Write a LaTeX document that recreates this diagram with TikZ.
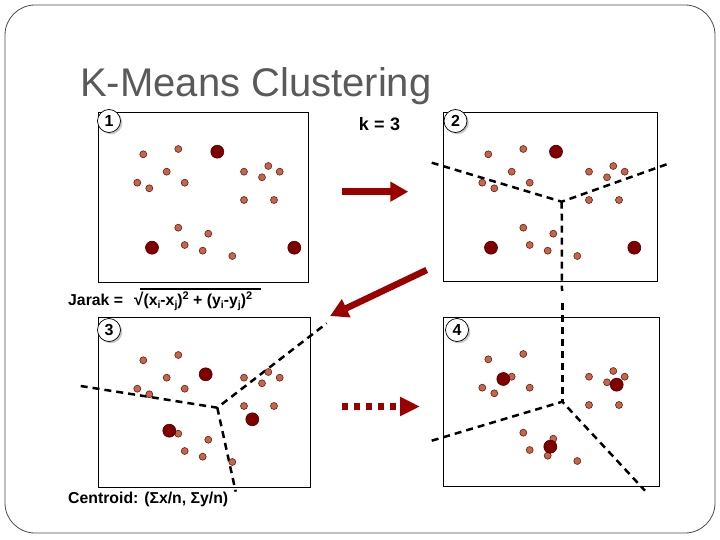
\documentclass[tikz,border=0pt]{standalone}
\usepackage{fontspec}
\setmainfont{Liberation Sans}
\usetikzlibrary{arrows.meta,shadows}
\definecolor{ptfill}{RGB}{200,100,75}
\definecolor{ptline}{RGB}{90,35,20}
\definecolor{cenfill}{RGB}{128,0,0}
\definecolor{cenline}{RGB}{70,0,0}
\definecolor{arrred}{RGB}{155,0,0}
\definecolor{titlegray}{RGB}{90,90,90}
\newcommand\lsub[1]{\raisebox{-0.4ex}{\fontsize{10.5}{10.5}\selectfont #1}}
\newcommand\lsup[1]{\raisebox{0.7ex}{\fontsize{11}{11}\selectfont #1}}
\tikzset{
  dot/.style={circle,draw=ptline,fill=ptfill,line width=0.6pt,inner sep=0pt,minimum size=7pt},
  cen/.style={circle,draw=cenline,fill=cenfill,line width=0.6pt,inner sep=0pt,minimum size=13pt},
  panel/.style={draw=black,line width=0.8pt,fill=white},
  vor/.style={draw=black,line width=2.5pt,dash pattern=on 7pt off 5pt},
  lbl/.style={circle,draw=black,line width=0.7pt,fill=white,minimum size=23pt,inner sep=0pt,
    font=\bfseries\fontsize{16}{16}\selectfont,
    drop shadow={shadow xshift=1.8pt,shadow yshift=-1.8pt,fill=black!22,opacity=1}},
  bigarrow/.style={draw=arrred,line width=6.5pt,-{Triangle[length=18pt,width=19pt]}},
  txt/.style={font=\bfseries\fontsize{15.8}{15.8}\selectfont,inner sep=0pt,anchor=base west},
}
\begin{document}
\begin{tikzpicture}[x=1pt,y=-1pt]
\useasboundingbox (0,0) rectangle (720,540);
\fill[white] (0,0) rectangle (720,540);
% slide frame
\draw[draw=black!70,line width=0.8pt,rounded corners=30pt] (5,5) rectangle (715,533);
% title
\node[anchor=base west,inner sep=0pt,text=titlegray,font=\fontsize{40}{40}\selectfont] (title) at (80,97) {K-Means Clustering};
% panels
\draw[panel] (98,112) rectangle (308,282);
\draw[panel] (443,112) rectangle (657,281);
\draw[panel] (98,317) rectangle (310,487);
\draw[panel] (443,317) rectangle (659,486);
% dashed region borders
\coordinate (v2) at (561.7,201.7);
\coordinate (v2l) at (431.7,162.7);
\coordinate (v2r) at (666.7,164.3);
\coordinate (v2d) at (562,291);
\draw[vor] (v2l) -- (v2) -- (v2r);
\draw[vor] (v2) -- (v2d);
\coordinate (v3) at (217.3,407.7);
\coordinate (v3l) at (80.7,386);
\coordinate (v3r) at (326.7,323.3);
\coordinate (v3d) at (235.7,491.7);
\draw[vor] (v3l) -- (v3) -- (v3r);
\draw[vor] (v3) -- (v3d);
\coordinate (v4) at (562.3,401.7);
\coordinate (v4u) at (562.3,303);
\coordinate (v4l) at (431.7,440.7);
\coordinate (v4r) at (645,490.7);
\draw[vor] (v4u) -- (v4);
\draw[vor] (v4l) -- (v4) -- (v4r);
% data points
\foreach \px/\py [count=\i] in {143.3/154.3,178.3/149,166.7/171.7,137.3/182.7,149.3/188.3,184.7/182.7,244/171.7,268.3/166,279.7/171.7,262/177.3,244/200,274/200,178.3/227.7,208.3/233.7,184.7/245,202.7/250.7,232.3/256}{
  \node[dot] (a\i) at (\px,\py) {};
  \node[dot] (b\i) at (\px+345,\py) {};
  \node[dot] (c\i) at (\px,\py+206) {};
  \node[dot] (d\i) at (\px+345,\py+205) {};
}
% centroids
\node[cen] (ca1) at (217.3,151.7) {};
\node[cen] (ca2) at (152,247.7) {};
\node[cen] (ca3) at (294.3,247.7) {};
\node[cen] (cb1) at (556,151.7) {};
\node[cen] (cb2) at (491,247.7) {};
\node[cen] (cb3) at (634.3,247.7) {};
\node[cen] (cc1) at (205.7,374.3) {};
\node[cen] (cc2) at (252.3,419.3) {};
\node[cen] (cc3) at (169.3,430.7) {};
\node[cen] (cd1) at (503.3,379) {};
\node[cen] (cd2) at (616.7,384.7) {};
\node[cen] (cd3) at (550.3,446.7) {};
% step labels
\node[lbl] (l1) at (109,121) {1};
\node[lbl] (l2) at (455.5,121) {2};
\node[lbl] (l3) at (109,330) {3};
\node[lbl] (l4) at (457,330) {4};
% texts
\node[font=\bfseries\fontsize{18}{18}\selectfont,inner sep=0pt] (k) at (379.5,124) {k\hspace{0.3em}=\hspace{0.3em}3};
\node[txt] (jarak) at (68,305) {Jarak =\hspace{0.7em}{\fontsize{17}{17}\selectfont √}(x\lsub{i}-x\lsub{j})\lsup{2} + (y\lsub{i}-y\lsub{j})\lsup{2}};
\coordinate (ovl) at (140,289);
\coordinate (ovr) at (261,289);
\draw[line width=1.6pt] (ovl) -- (ovr);
\node[txt] (centroid) at (68,503) {Centroid: (Σx/n, Σy/n)};
% arrows between steps
\coordinate (a1s) at (341.7,191.7);
\coordinate (a1e) at (408.3,191.7);
\draw[bigarrow] (a1s) -- (a1e);
\coordinate (a2s) at (426.7,270);
\coordinate (a2e) at (330,316);
\draw[bigarrow] (a2s) -- (a2e);
\coordinate (a3s) at (342,406.5);
\coordinate (a3e) at (420,406.5);
\draw[draw=arrred,line width=6.5pt,dash pattern=on 6pt off 6pt,-{Triangle[length=20pt,width=18pt]}] (a3s) -- (a3e);
\end{tikzpicture}
\end{document}
